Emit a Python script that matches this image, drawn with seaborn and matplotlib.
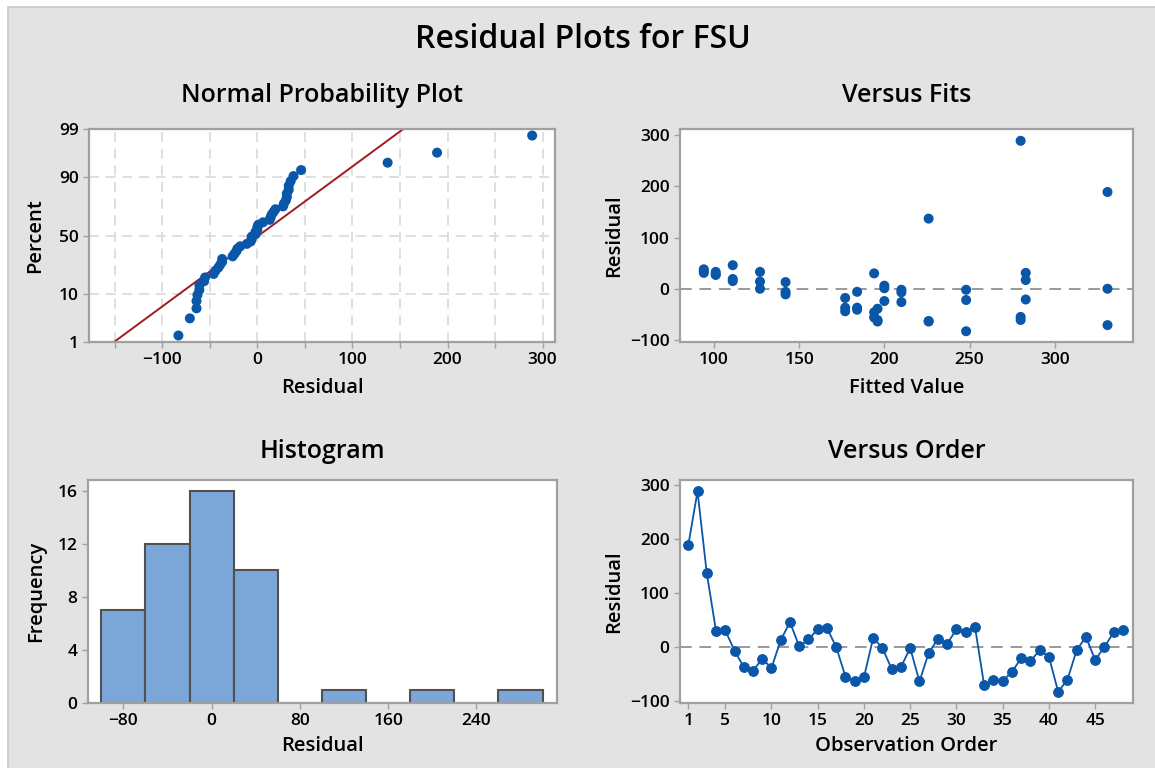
import numpy as np
import pandas as pd
import matplotlib
matplotlib.use("Agg")
import matplotlib.pyplot as plt
import seaborn as sns
from statistics import NormalDist
from matplotlib.patches import Rectangle
from matplotlib.ticker import MultipleLocator

# residuals in observation order
residuals = [189, 289, 137, 30, 31, -7, -37, -44, -22, -39, 13, 46, 1, 14, 33, 35,
             0, -55, -64, -56, 17, -2, -41, -37, -2, -64, -11, 15, 6, 33, 28, 38,
             -71, -61, -63, -46, -21, -26, -6, -18, -83, -61, -6, 19, -24, 0, 27, 31]
# fitted value for the 16 groups, which repeat three times in observation order
group_fits = [331, 280, 226, 194, 283, 210, 184, 177, 248, 196, 142, 111, 200, 127, 101, 94]
fitted = group_fits * 3
hist_edges = list(range(-100, 301, 40))
prob_ticks = [1, 10, 50, 90, 99]

df = pd.DataFrame({"order": range(1, len(residuals) + 1),
                   "fitted": fitted,
                   "residual": residuals})

blue = "#0a56a8"
red = "#9e1c20"
frame = "#a0a0a0"

sns.set_style("white")
plt.rcParams["font.family"] = ["Open Sans", "DejaVu Sans"]
plt.rcParams["font.weight"] = "semibold"
plt.rcParams["text.color"] = "black"
plt.rcParams["axes.labelcolor"] = "black"

fig = plt.figure(figsize=(11.55, 7.68), dpi=100)
fig.patches.append(Rectangle((8 / 1155, -0.01), 1.1, 1 - 7 / 768 + 0.01,
                             transform=fig.transFigure, facecolor="#e3e3e3",
                             edgecolor="#c8c8c8", linewidth=1.2, zorder=-10))

ax1 = fig.add_axes([0.0771, 0.5547, 0.4034, 0.2773])
ax2 = fig.add_axes([0.5887, 0.5547, 0.3923, 0.2773])
ax3 = fig.add_axes([0.0762, 0.0846, 0.4060, 0.2904])
ax4 = fig.add_axes([0.5887, 0.0846, 0.3923, 0.2904])


def style(ax, title, xlabel, ylabel, ty, xly, ylx):
    ax.set_facecolor("white")
    for s in ax.spines.values():
        s.set_color(frame)
        s.set_linewidth(1.6)
    ax.tick_params(colors=frame, labelcolor="black", labelsize=12.5,
                   length=4, width=1, direction="out", bottom=True, left=True)
    ax.tick_params(which="minor", colors=frame, length=4, width=1, bottom=True)
    ax.set_title(title, fontsize=18, fontweight="semibold", y=ty, va="center")
    ax.set_xlabel(xlabel, fontsize=14.5, fontweight="semibold")
    ax.set_ylabel(ylabel, fontsize=14.5, fontweight="semibold")
    ax.xaxis.set_label_coords(0.5, xly)
    ax.yaxis.set_label_coords(ylx, 0.5)


# Normal probability plot
nd = NormalDist()
n = len(df)
srt = np.sort(df["residual"].to_numpy())
zq = [nd.inv_cdf((i - 0.3) / (n + 0.4)) for i in range(1, n + 1)]
mu, sd = df["residual"].mean(), df["residual"].std()
zlo, zhi = nd.inv_cdf(prob_ticks[0] / 100), nd.inv_cdf(prob_ticks[-1] / 100)
for v in np.arange(-150, 301, 50):
    ax1.axvline(v, color="#d9d9d9", ls=(0, (6, 4)), lw=1.2, zorder=0)
for p in prob_ticks[1:-1]:
    ax1.axhline(nd.inv_cdf(p / 100), color="#d9d9d9", ls=(0, (6, 4)), lw=1.2, zorder=0)
sns.lineplot(x=[mu + sd * zlo, mu + sd * zhi], y=[zlo, zhi], ax=ax1, color=red, lw=1.4)
sns.scatterplot(x=srt, y=zq, ax=ax1, color=blue, s=52, edgecolor="none", zorder=3)
ax1.set_xlim(-177, 313)
ax1.set_ylim(zlo, zhi)
ax1.xaxis.set_major_locator(MultipleLocator(100))
ax1.xaxis.set_minor_locator(MultipleLocator(50))
ax1.set_yticks([nd.inv_cdf(p / 100) for p in prob_ticks], [str(p) for p in prob_ticks])
style(ax1, "Normal Probability Plot", "Residual", "Percent", 1.12, -0.168, -0.094)

# Versus fits
ax2.axhline(0, color="#999999", ls=(0, (6, 4)), lw=1.4, zorder=0)
sns.scatterplot(data=df, x="fitted", y="residual", ax=ax2, color=blue, s=52,
                edgecolor="none", zorder=3)
ax2.set_xlim(80, 346)
ax2.set_ylim(-104, 312)
ax2.xaxis.set_major_locator(MultipleLocator(50))
ax2.yaxis.set_major_locator(MultipleLocator(100))
style(ax2, "Versus Fits", "Fitted Value", "Residual", 1.12, -0.168, -0.124)

# Histogram
sns.histplot(data=df, x="residual", bins=hist_edges, ax=ax3, color="#7ba7d8",
             edgecolor="#505050", linewidth=1.5, alpha=1)
ax3.set_xlim(-112, 313)
ax3.set_ylim(0, 16.8)
ax3.xaxis.set_major_locator(MultipleLocator(80))
ax3.yaxis.set_major_locator(MultipleLocator(4))
style(ax3, "Histogram", "Residual", "Frequency", 1.09, -0.15, -0.089)

# Versus order
ax4.axhline(0, color="#999999", ls=(0, (6, 4)), lw=1.4, zorder=0)
sns.lineplot(data=df, x="order", y="residual", ax=ax4, color=blue, lw=1.3,
             marker="o", markersize=7, markeredgecolor=blue)
ax4.set_xlim(0.1, 49.1)
ax4.set_ylim(-104, 310)
ax4.set_xticks([1, 5, 10, 15, 20, 25, 30, 35, 40, 45])
ax4.yaxis.set_major_locator(MultipleLocator(100))
style(ax4, "Versus Order", "Observation Order", "Residual", 1.09, -0.15, -0.124)

fig.text(0.505, 0.948, "Residual Plots for FSU", fontsize=23, fontweight="semibold",
         ha="center", va="center")

fig.savefig("out.png", dpi=100)
